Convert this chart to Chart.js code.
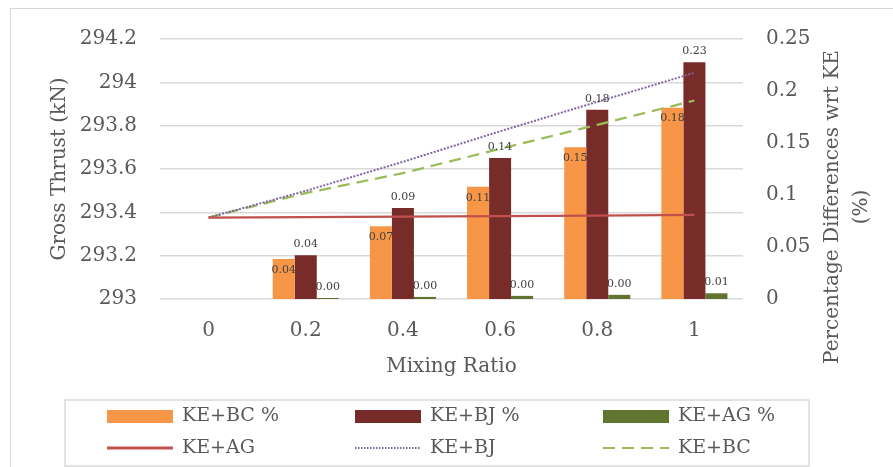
<!DOCTYPE html>
<html>
<head>
<meta charset="utf-8">
<script src="https://cdn.jsdelivr.net/npm/chart.js@4/dist/chart.umd.min.js"></script>
<style>
  html, body { margin: 0; padding: 0; background: #ffffff; }
  #wrap { position: relative; width: 893px; height: 467px; overflow: hidden; }
  #frame { position: absolute; left: 10px; top: 8px; width: 900px; height: 480px;
           border: 1.5px solid #d9d9d9; box-sizing: border-box; }
  #c { position: absolute; left: 0; top: 0; }
</style>
</head>
<body>
<div id="wrap">
  <div id="frame"></div>
  <canvas id="c" width="893" height="467"></canvas>
</div>
<script>
// Mixing ratio categories
const mixingRatios = ['0', '0.2', '0.4', '0.6', '0.8', '1'];

// Percentage differences with respect to KE (right axis, %)
const pctBC = [null, 0.0385, 0.070, 0.108, 0.146, 0.184];
const pctBJ = [null, 0.042, 0.0875, 0.1356, 0.182, 0.2276];
const pctAG = [null, 0.001, 0.002, 0.003, 0.004, 0.0055];

// Gross thrust (left axis, kN)
const thrustAG = [293.376, 293.378, 293.380, 293.382, 293.385, 293.388];
const thrustBJ = [293.376, 293.499, 293.633, 293.774, 293.910, 294.044];
const thrustBC = [293.376, 293.489, 293.581, 293.693, 293.804, 293.916];

// Axis tick labels
const thrustTicks = ['293', '293.2', '293.4', '293.6', '293.8', '294', '294.2'];
const pctTicks = ['0', '0.05', '0.1', '0.15', '0.2', '0.25'];

const FONT = '"DejaVu Serif", serif';
const TEXT = '#595959';

// value labels on the bars
const barValueLabels = {
  id: 'barValueLabels',
  afterDatasetsDraw(chart) {
    const ctx = chart.ctx;
    ctx.save();
    ctx.font = '11px ' + FONT;
    ctx.fillStyle = '#404040';
    ctx.textAlign = 'center';
    ctx.textBaseline = 'middle';
    chart.data.datasets.forEach((ds, i) => {
      if (ds.type !== 'bar') return;
      chart.getDatasetMeta(i).data.forEach((bar, j) => {
        const v = ds.data[j];
        if (v === null || v === undefined) return;
        const y = ds.label === 'KE+BC %' ? bar.y + 11 : bar.y - 11;
        ctx.fillText(v.toFixed(2), bar.x, y);
      });
    });
    ctx.restore();
  }
};

// axis titles and the two-row legend box
const titlesAndLegend = {
  id: 'titlesAndLegend',
  afterDraw(chart) {
    const ctx = chart.ctx;
    const area = chart.chartArea;
    ctx.save();
    ctx.fillStyle = TEXT;
    ctx.font = '20px ' + FONT;
    ctx.textAlign = 'center';
    ctx.textBaseline = 'middle';

    // x axis title
    ctx.fillText('Mixing Ratio', (area.left + area.right) / 2, 367);

    // left axis title
    ctx.save();
    ctx.translate(60, (area.top + area.bottom) / 2);
    ctx.rotate(-Math.PI / 2);
    ctx.fillText('Gross Thrust (kN)', 0, 0);
    ctx.restore();

    // right axis title (two lines)
    ctx.save();
    ctx.translate(833, 207);
    ctx.rotate(-Math.PI / 2);
    ctx.fillText('Percentage Differences wrt KE', 0, 0);
    ctx.fillText('(%)', 0, 29);
    ctx.restore();

    // legend frame
    ctx.strokeStyle = '#d9d9d9';
    ctx.lineWidth = 1.5;
    ctx.strokeRect(65, 400, 744, 66);

    const order = ['KE+BC %', 'KE+BJ %', 'KE+AG %', 'KE+AG', 'KE+BJ', 'KE+BC'];
    const cols = [107, 355, 603];
    const rows = [416.5, 448];
    ctx.font = '19px ' + FONT;
    ctx.textAlign = 'left';
    order.forEach((name, k) => {
      const ds = chart.data.datasets.find(d => d.label === name);
      const x = cols[k % 3];
      const y = rows[Math.floor(k / 3)];
      if (ds.type === 'bar') {
        ctx.fillStyle = ds.backgroundColor;
        ctx.fillRect(x, y - 6.5, 66, 13);
      } else {
        ctx.strokeStyle = ds.borderColor;
        ctx.lineWidth = ds.label === 'KE+AG' ? 3 : 2;
        ctx.setLineDash(ds.label === 'KE+BJ' ? [1.5, 1.5] : (ds.borderDash || []));
        ctx.beginPath();
        ctx.moveTo(x, y);
        ctx.lineTo(x + 66, y);
        ctx.stroke();
        ctx.setLineDash([]);
      }
      ctx.fillStyle = TEXT;
      ctx.fillText(name, x + 75, y);
    });
    ctx.restore();
  }
};

new Chart(document.getElementById('c'), {
  data: {
    labels: mixingRatios,
    datasets: [
      { type: 'bar', label: 'KE+BC %', data: pctBC, yAxisID: 'yPct',
        backgroundColor: '#F79646', order: 1 },
      { type: 'bar', label: 'KE+BJ %', data: pctBJ, yAxisID: 'yPct',
        backgroundColor: '#772C2A', order: 2 },
      { type: 'bar', label: 'KE+AG %', data: pctAG, yAxisID: 'yPct',
        backgroundColor: '#5F7530', order: 3 },
      { type: 'line', label: 'KE+AG', data: thrustAG, yAxisID: 'yThrust',
        borderColor: '#C0504D', borderWidth: 2.25, pointRadius: 0, tension: 0, fill: false, order: 0 },
      { type: 'line', label: 'KE+BJ', data: thrustBJ, yAxisID: 'yThrust',
        borderColor: '#8064A2', borderWidth: 2, borderDash: [2, 1.5], pointRadius: 0, tension: 0, fill: false, order: 0 },
      { type: 'line', label: 'KE+BC', data: thrustBC, yAxisID: 'yThrust',
        borderColor: '#9BBB59', borderWidth: 2.25, borderDash: [12, 7], pointRadius: 0, tension: 0, fill: false, order: 0 }
    ]
  },
  options: {
    responsive: false,
    animation: false,
    devicePixelRatio: 1,
    layout: { padding: { top: 39, left: 0, right: 0, bottom: 0 } },
    datasets: {
      bar: { categoryPercentage: 0.68, barPercentage: 1.0 }
    },
    plugins: {
      legend: { display: false },
      tooltip: { enabled: false },
      title: { display: false }
    },
    scales: {
      x: {
        type: 'category',
        offset: true,
        grid: { display: false, drawTicks: false },
        border: { display: false },
        ticks: { color: TEXT, font: { family: FONT, size: 20 }, padding: 20, maxRotation: 0 },
        afterFit(scale) { scale.height = 168; }
      },
      yThrust: {
        type: 'linear',
        position: 'left',
        min: 293,
        max: 294.2,
        grid: { color: '#d9d9d9', lineWidth: 1.5, drawTicks: false },
        border: { display: false },
        ticks: {
          stepSize: 0.2,
          padding: 23,
          color: TEXT,
          font: { family: FONT, size: 20 },
          callback: (v, i) => thrustTicks[i]
        },
        afterFit(scale) { scale.width = 160; }
      },
      yPct: {
        type: 'linear',
        position: 'right',
        min: 0,
        max: 0.25,
        grid: { display: false, drawTicks: false },
        border: { display: false },
        ticks: {
          stepSize: 0.05,
          padding: 23,
          color: TEXT,
          font: { family: FONT, size: 20 },
          callback: (v, i) => pctTicks[i]
        },
        afterFit(scale) { scale.width = 150; }
      }
    }
  },
  plugins: [barValueLabels, titlesAndLegend]
});
</script>
</body>
</html>
